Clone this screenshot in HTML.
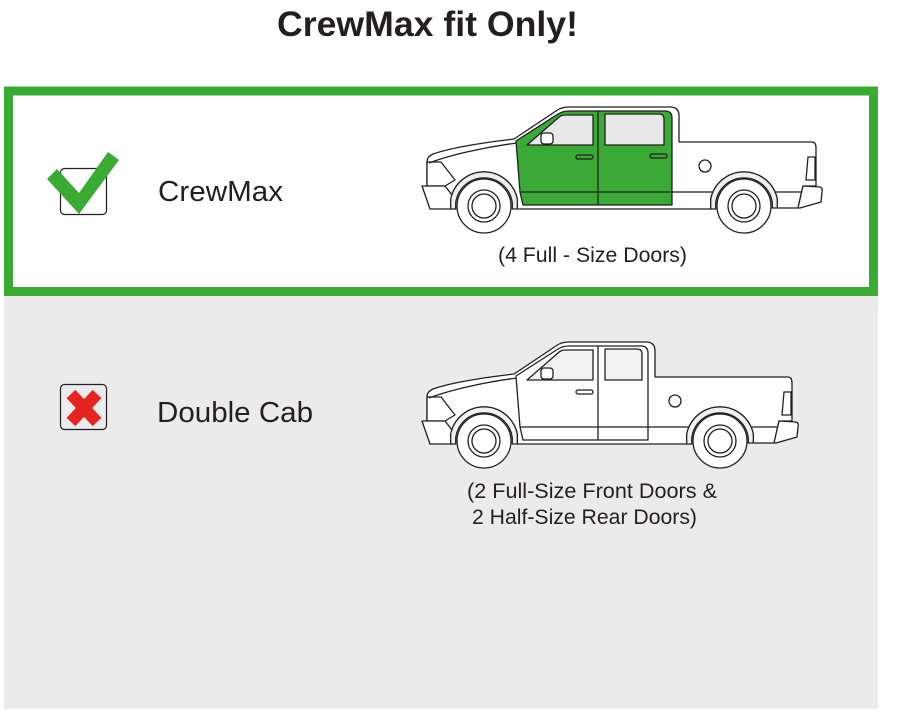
<!DOCTYPE html>
<html><head><meta charset="utf-8"><style>
html,body{margin:0;padding:0;background:#fff;width:903px;height:717px;overflow:hidden}
svg{display:block}
text{font-family:"Liberation Sans",sans-serif;fill:#231f20}
</style></head><body>
<svg width="903" height="717" viewBox="0 0 903 717" xmlns="http://www.w3.org/2000/svg">
<rect x="0" y="0" width="903" height="717" fill="#fff"/>
<rect x="4" y="296" width="874" height="413" fill="#ebebeb"/>
<rect x="8.5" y="91" width="865" height="200.5" fill="#fff" stroke="#3aaa35" stroke-width="9"/>

<text x="277" y="36" font-size="35" font-weight="bold" textLength="301" lengthAdjust="spacingAndGlyphs">CrewMax fit Only!</text>

<!-- check icon -->
<rect x="60.5" y="168.5" width="46" height="46" rx="4" fill="none" stroke="#231f20" stroke-width="1.2"/>
<polygon points="47,179 57,169 79,193 108,152 119,160 79,214" fill="#3aaa35"/>
<text x="158" y="201" font-size="29" textLength="125" lengthAdjust="spacingAndGlyphs">CrewMax</text>

<!-- X icon -->
<rect x="60.5" y="384.5" width="46" height="45" rx="4" fill="none" stroke="#231f20" stroke-width="1.2"/>
<line x1="71" y1="394" x2="97" y2="422" stroke="#e52421" stroke-width="12"/>
<line x1="97" y1="394" x2="71" y2="422" stroke="#e52421" stroke-width="12"/>
<text x="157" y="422" font-size="29" textLength="156" lengthAdjust="spacingAndGlyphs">Double Cab</text>

<!-- TRUCK 1 (CrewMax) -->
<g fill="#fff" stroke="#231f20" stroke-width="1.3" stroke-linejoin="round">
<path d="M 427,162 C 427,158 429,156 433,154 C 450,148 480,143 514,139 L 556,111 Q 561,107 569,107 L 670,107 Q 679,107 679,116 L 679,142 L 812,142 Q 816,142 816,148 L 816,186 L 803,186 L 798,208 L 777.3,208 L 777.3,199 A 34 34 0 0 0 710.7,199 L 710.7,209 L 517.3,209 L 517.3,199 A 34 34 0 0 0 450.7,199 L 451,195 L 445,186 L 427,186 Z"/>
<path d="M 427,162 L 441,162 L 455,180 L 445,186 L 427,186 Z"/>
<path d="M 422,186 L 445,186 L 452,195 L 452,209 L 430,209 Z"/>
<path d="M 803,186 L 820,187 Q 823,188 822,192 L 821,202 L 800,208 L 798,208 Z"/>
<path d="M 808,157 L 815,157 L 815,180 L 806,180 Z"/>
<path d="M 429,163 C 450,155 485,147 517,143" fill="none"/>
<path d="M 516,141 L 558,114 Q 563,111 569,111 L 665,111 Q 672,111 672,118 L 672,205 L 523,205 L 520,192 Z" fill="#3aa935"/>
<path d="M 521,192 L 713,192 M 775,192 L 802,192 M 598,111 L 598,205" fill="none"/>
<path d="M 527,145 L 558,118 Q 561,115 565,115 L 593,115 L 593,145 Z" fill="#e8e8e8"/>
<path d="M 605,114 L 659,114 Q 664,114 664,119 L 664,145 L 605,145 Z" fill="#e8e8e8"/>
<rect x="541" y="133" width="12" height="11" rx="3"/>
<rect x="576" y="155" width="17" height="4" rx="2" fill="#3aa935"/>
<rect x="650" y="154" width="17" height="4" rx="2" fill="#3aa935"/>
<circle cx="705" cy="166" r="6"/>
<circle cx="484" cy="206" r="27"/>
<circle cx="484" cy="206" r="16"/>
<circle cx="484" cy="206" r="12"/>
<circle cx="744" cy="206" r="27"/>
<circle cx="744" cy="206" r="16"/>
<circle cx="744" cy="206" r="12"/>
<path d="M 450.7,209 L 450.7,199 A 34 34 0 0 1 517.3,199 L 517.3,209 L 512.3,209 L 512.3,203 A 28.5 28.5 0 0 0 455.7,203 L 455.7,209 Z" fill="#eeeeee"/>
<path d="M 710.7,209 L 710.7,199 A 34 34 0 0 1 777.3,199 L 777.3,208 L 772.3,208 L 772.3,203 A 28.5 28.5 0 0 0 715.7,203 L 715.7,209 Z" fill="#eeeeee"/>
</g>
<text x="498" y="262" font-size="21" textLength="189" lengthAdjust="spacingAndGlyphs">(4 Full - Size Doors)</text>

<!-- TRUCK 2 (Double Cab) -->
<g fill="#fff" stroke="#231f20" stroke-width="1.3" stroke-linejoin="round">
<path d="M 427,397 C 427,393 429,391 433,389 C 450,383 480,378 514,374 L 556,346 Q 561,342 569,342 L 646,342 Q 655,342 655,351 L 655,377 L 788,377 Q 792,377 792,383 L 792,421 L 779,421 L 774,443 L 753.3,443 L 753.3,434 A 34 34 0 0 0 686.7,434 L 686.7,444 L 517.3,444 L 517.3,434 A 34 34 0 0 0 450.7,434 L 451,430 L 445,421 L 427,421 Z"/>
<path d="M 427,397 L 441,397 L 455,415 L 445,421 L 427,421 Z"/>
<path d="M 422,421 L 445,421 L 452,430 L 452,444 L 430,444 Z"/>
<path d="M 779,421 L 796,422 Q 799,423 798,427 L 797,437 L 776,443 L 774,443 Z"/>
<path d="M 784,392 L 791,392 L 791,415 L 782,415 Z"/>
<path d="M 429,398 C 450,390 485,382 517,378" fill="none"/>
<path d="M 516,376 L 558,349 Q 563,346 569,346 L 641,346 Q 648,346 648,353 L 648,440 L 523,440 L 520,427 Z"/>
<path d="M 520,427 L 689,427 M 752,427 L 778,427 M 598,346 L 598,440" fill="none"/>
<path d="M 527,380 L 558,353 Q 561,350 565,350 L 593,350 L 593,380 Z" fill="#f2f2f2"/>
<path d="M 605,349 L 637,349 Q 642,349 642,354 L 642,380 L 605,380 Z" fill="#f2f2f2"/>
<rect x="541" y="368" width="12" height="11" rx="3"/>
<rect x="576" y="390" width="17" height="4" rx="2"/>
<circle cx="675" cy="401" r="6"/>
<circle cx="484" cy="441" r="27"/>
<circle cx="484" cy="441" r="16"/>
<circle cx="484" cy="441" r="12"/>
<circle cx="720" cy="441" r="27"/>
<circle cx="720" cy="441" r="16"/>
<circle cx="720" cy="441" r="12"/>
<path d="M 450.7,444 L 450.7,434 A 34 34 0 0 1 517.3,434 L 517.3,444 L 512.3,444 L 512.3,438 A 28.5 28.5 0 0 0 455.7,438 L 455.7,444 Z" fill="#f2f2f2"/>
<path d="M 686.7,444 L 686.7,434 A 34 34 0 0 1 753.3,434 L 753.3,443 L 748.3,443 L 748.3,438 A 28.5 28.5 0 0 0 691.7,438 L 691.7,444 Z" fill="#f2f2f2"/>
</g>
<text x="467" y="498" font-size="21" textLength="250" lengthAdjust="spacingAndGlyphs">(2 Full-Size Front Doors &amp;</text>
<text x="472" y="524" font-size="21" textLength="225" lengthAdjust="spacingAndGlyphs">2 Half-Size Rear Doors)</text>
</svg>
</body></html>
